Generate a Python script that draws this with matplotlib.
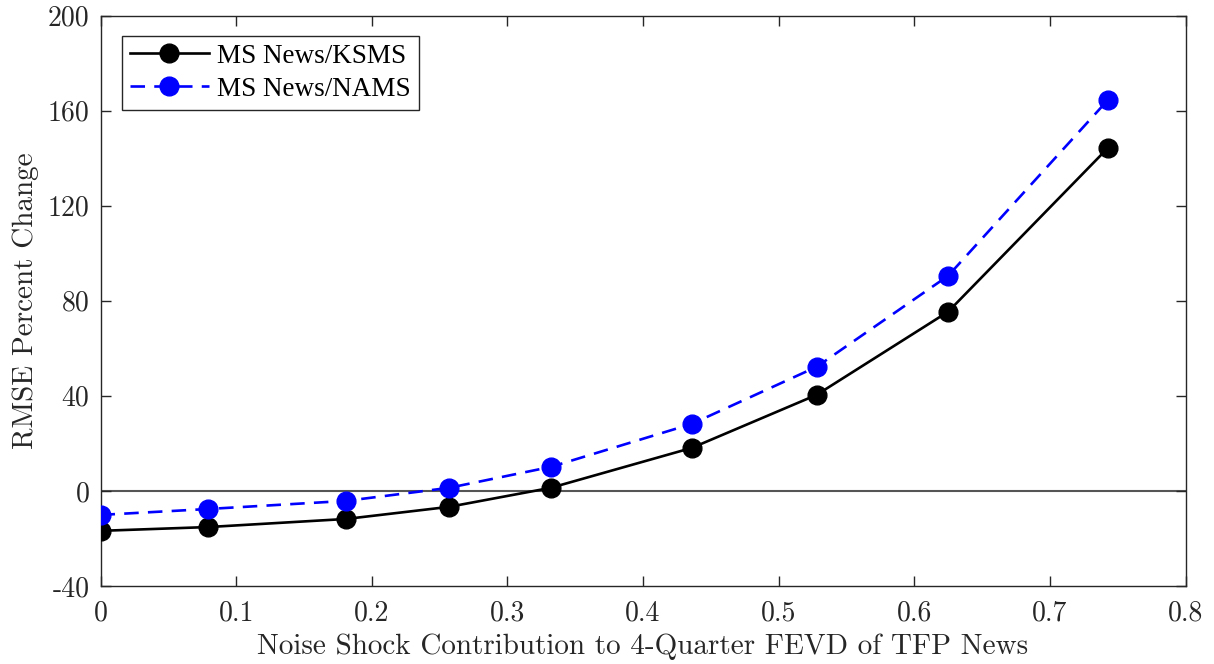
import matplotlib
matplotlib.use("Agg")
import matplotlib.pyplot as plt

x = [0.0, 0.0795, 0.181, 0.257, 0.332, 0.436, 0.528, 0.625, 0.743]
ksms = [-16.8, -15.2, -11.8, -6.7, 1.3, 18.1, 40.4, 75.4, 144.4]
nams = [-10.1, -7.6, -4.2, 1.3, 10.1, 28.2, 52.2, 90.5, 164.6]
xticks = [0, 0.1, 0.2, 0.3, 0.4, 0.5, 0.6, 0.7, 0.8]
xticklabels = ["0", "0.1", "0.2", "0.3", "0.4", "0.5", "0.6", "0.7", "0.8"]
yticks = [-40, 0, 40, 80, 120, 160, 200]
yticklabels = ["-40", "0", "40", "80", "120", "160", "200"]

fig = plt.figure(figsize=(12.14, 6.64), dpi=100)
ax = fig.add_axes([100.5/1214, 1-586/664, 1085/1214, 570.5/664])

spine_c = "#262626"
ax.axhline(0, color="#555555", lw=1.5, zorder=1)
ax.plot(x, ksms, "-o", color="black", lw=1.9, ms=13.5, label="MS News/KSMS", zorder=3)
ax.plot(x, nams, "--o", color="#0000ff", lw=1.9, ms=13.5, dashes=(5.5, 3.5), label="MS News/NAMS", zorder=3)

ax.set_xlim(0, 0.8)
ax.set_ylim(-40, 200)
ax.set_xticks(xticks)
ax.set_xticklabels(xticklabels)
ax.set_yticks(yticks)
ax.set_yticklabels(yticklabels)
ax.tick_params(direction="in", top=True, right=True, length=7, width=1, colors=spine_c,
               labelsize=20)
ax.tick_params(axis="x", pad=10)
ax.tick_params(axis="y", pad=8)
for lab in ax.get_xticklabels() + ax.get_yticklabels():
    lab.set_fontfamily("cmr10")
    lab.set_color("#262626")
for s in ax.spines.values():
    s.set_color(spine_c)
    s.set_linewidth(1.0)

ax.set_xlabel("Noise Shock Contribution to 4-Quarter FEVD of TFP News", fontfamily="cmr10",
              fontsize=21, color="#262626", labelpad=5)
ax.set_ylabel("RMSE Percent Change", fontfamily="cmr10", fontsize=21, color="#262626", labelpad=6)

leg = ax.legend(loc="upper left", bbox_to_anchor=(21.5/1085, 1-20/570.5), borderaxespad=0,
                prop={"family": "Liberation Serif", "size": 19.5}, fancybox=False,
                edgecolor="#262626", framealpha=1, handlelength=2.9, handletextpad=0.3,
                borderpad=0.3, labelspacing=0.3)
leg.get_frame().set_linewidth(1.0)

fig.savefig("out.png", dpi=100)
